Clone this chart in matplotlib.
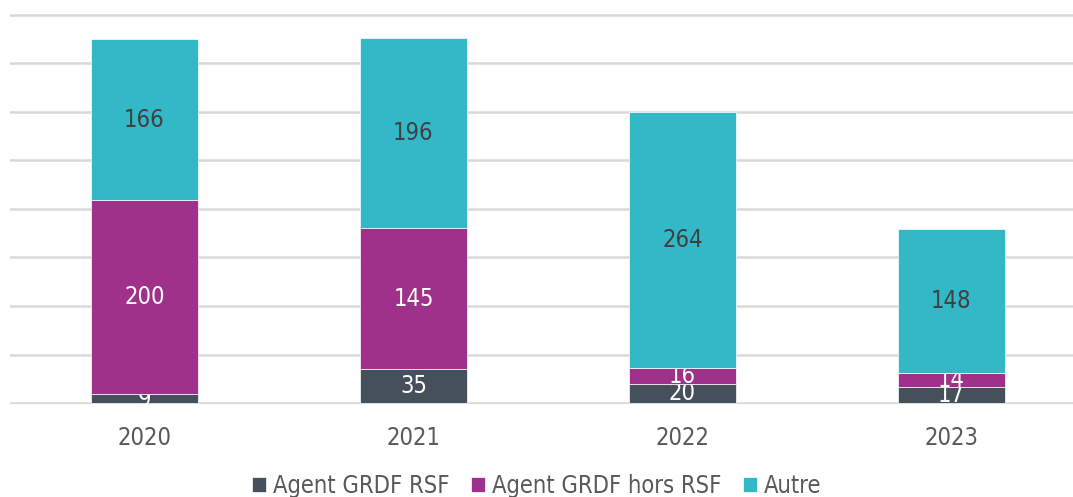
import matplotlib
matplotlib.use("Agg")
import matplotlib.pyplot as plt
import numpy as np

# donnees
annees = ["2020", "2021", "2022", "2023"]
agent_rsf = [9, 35, 20, 17]
agent_hors_rsf = [200, 145, 16, 14]
autre = [166, 196, 264, 148]

series = ["Agent GRDF RSF", "Agent GRDF hors RSF", "Autre"]
couleurs = ["#46505A", "#A0318A", "#32B8C6"]
couleurs_txt = ["white", "white", "#404040"]

plt.rcParams["font.family"] = "DejaVu Sans"
plt.rcParams["font.stretch"] = "condensed"

fig = plt.figure(figsize=(10.73, 4.97), dpi=100)
ax = fig.add_axes([10 / 1073, 1 - 404 / 497, 1063 / 1073, 391 / 497])

x = np.arange(len(annees))
bas = np.zeros(len(annees))
for nom, vals, c, ct in zip(series, [agent_rsf, agent_hors_rsf, autre], couleurs, couleurs_txt):
    barres = ax.bar(x, vals, width=0.4, bottom=bas, color=c, label=nom,
                    edgecolor="white", linewidth=0.5, zorder=3)
    ax.bar_label(barres, labels=[str(v) for v in vals], label_type="center",
                 color=ct, fontsize=17)
    bas += np.array(vals)

ax.set_ylim(-1, 402)
ax.set_xlim(-0.5, 3.452)
ax.set_yticks(np.arange(0, 401, 50))
ax.yaxis.grid(True, color="#D9D9D9", linewidth=1.8, zorder=0)
ax.set_axisbelow(True)
ax.tick_params(axis="y", left=False, labelleft=False)
ax.tick_params(axis="x", length=0, pad=16, labelsize=17, labelcolor="#595959")
ax.set_xticks(x)
ax.set_xticklabels(annees)
for s in ax.spines.values():
    s.set_visible(False)

fig.legend(loc="lower center", bbox_to_anchor=(0.5, -0.045), ncol=3, frameon=False,
           fontsize=17, handlelength=0.6, handleheight=0.6, handletextpad=0.3,
           columnspacing=0.9, labelcolor="#595959")

fig.savefig("out.png", dpi=100)
